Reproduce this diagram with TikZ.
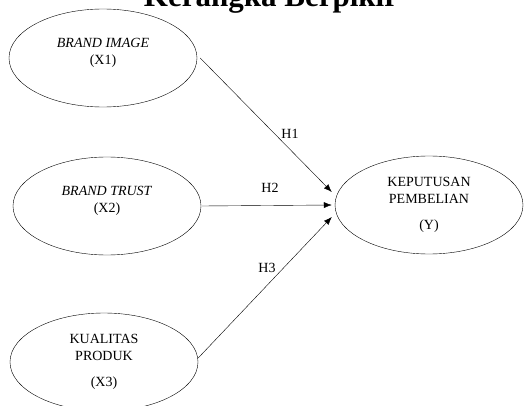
\documentclass[tikz,border=0pt]{standalone}
\usepackage{fontspec}
\setmainfont{Liberation Serif}
\usepackage{tikz}
\usetikzlibrary{shapes}
\usetikzlibrary{arrows.meta}

\begin{document}
\begin{tikzpicture}[x=1pt,y=1pt]
        \tikzstyle{construct}=[ellipse,draw=black,thin,minimum width=188pt,minimum height=98pt,inner sep=0pt,align=center,font=\fontsize{14}{17}\selectfont]
        \tikzstyle{edge}=[draw, thin, -{Latex[length=8pt,width=6pt]}]
        \tikzstyle{hyp}=[font=\fontsize{14}{17}\selectfont]
        \useasboundingbox (0,0) rectangle (527,405);
       \begin{scope}
         \node [anchor=base,font=\fontsize{31}{36}\selectfont\bfseries] (title) at (271,398) {Kerangka Berpikir};
         \node [construct] (x1) at (103,347) {\textit{BRAND IMAGE}\\(X1)\\[-4pt]\mbox{}};
         \node [construct] (x2) at (107,199) {\textit{BRAND TRUST}\\(X2)\\[-4pt]\mbox{}};
         \node [construct] (x3) at (104,43) {KUALITAS\\PRODUK\\[9pt](X3)};
         \node [construct] (y) at (429,200) {KEPUTUSAN\\PEMBELIAN\\[9pt](Y)};
         \path ([xshift=3pt]x1.east) edge[edge] ([xshift=-3pt,yshift=13pt]y.west);
         \path ([xshift=1pt]x2.east) edge[edge] ([xshift=-3pt]y.west);
         \path ([yshift=4pt]x3.east) edge[edge] ([xshift=-3pt,yshift=-12pt]y.west);
         \node [hyp] (h1) at (290,271) {H1};
         \node [hyp] (h2) at (270,217) {H2};
         \node [hyp] (h3) at (267,137) {H3};
        \end{scope}
      \end{tikzpicture}
\end{document}
